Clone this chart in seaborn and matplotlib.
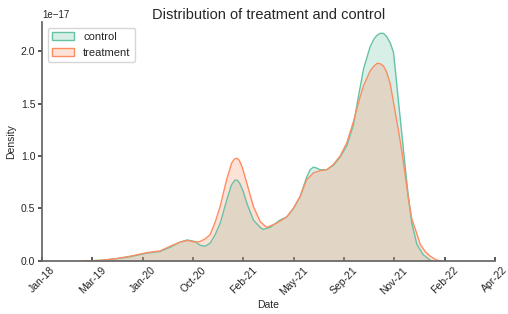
import pandas as pd
import seaborn as sns
import matplotlib.pyplot as plt
from matplotlib.patches import Patch

# Density curves (x in 1e18 ns, density in 1e-17)
control_x = [1.5163, 1.5231, 1.5290, 1.5350, 1.5418, 1.5469, 1.5509, 1.5549, 1.5577, 1.5608,
             1.5628, 1.5648, 1.5668, 1.5688, 1.5708, 1.5734, 1.5752, 1.5766, 1.5776, 1.5786,
             1.5800, 1.5814, 1.5840, 1.5867, 1.5879, 1.5907, 1.5946, 1.5973, 1.5999, 1.6026,
             1.6052, 1.6066, 1.6079, 1.6092, 1.6105, 1.6132, 1.6158, 1.6185, 1.6212, 1.6238,
             1.6258, 1.6278, 1.6304, 1.6318, 1.6331, 1.6344, 1.6357, 1.6370, 1.6384, 1.6397,
             1.6404, 1.6417, 1.6430, 1.6443, 1.6456, 1.6470, 1.6490, 1.6515, 1.6547]
control_y = [0.0, 0.005, 0.02, 0.04, 0.075, 0.09, 0.13, 0.18, 0.20, 0.185,
             0.15, 0.14, 0.17, 0.25, 0.36, 0.58, 0.72, 0.77, 0.77, 0.74,
             0.66, 0.55, 0.39, 0.32, 0.30, 0.32, 0.39, 0.42, 0.50, 0.615,
             0.80, 0.87, 0.895, 0.885, 0.87, 0.87, 0.91, 0.99, 1.10, 1.30,
             1.57, 1.83, 2.04, 2.11, 2.15, 2.17, 2.17, 2.14, 2.08, 1.99,
             1.83, 1.52, 1.22, 0.91, 0.62, 0.36, 0.16, 0.06, 0.0]

treatment_x = [1.5163, 1.5231, 1.5290, 1.5350, 1.5418, 1.5469, 1.5509, 1.5549, 1.5577, 1.5608,
               1.5628, 1.5648, 1.5668, 1.5688, 1.5708, 1.5734, 1.5754, 1.5764, 1.5774, 1.5784,
               1.5796, 1.5814, 1.5840, 1.5867, 1.5893, 1.5933, 1.5973, 1.5999, 1.6026, 1.6052,
               1.6079, 1.6105, 1.6132, 1.6158, 1.6185, 1.6212, 1.6238, 1.6264, 1.6278, 1.6304,
               1.6320, 1.6333, 1.6345, 1.6357, 1.6370, 1.6384, 1.6404, 1.6417, 1.6430, 1.6443,
               1.6456, 1.6470, 1.6490, 1.6503, 1.6523, 1.6543, 1.6567, 1.6586]
treatment_y = [0.0, 0.005, 0.02, 0.045, 0.08, 0.095, 0.14, 0.18, 0.195, 0.18,
               0.185, 0.21, 0.25, 0.37, 0.52, 0.78, 0.935, 0.97, 0.98, 0.96,
               0.89, 0.74, 0.52, 0.375, 0.32, 0.36, 0.42, 0.50, 0.615, 0.775,
               0.84, 0.86, 0.87, 0.92, 1.00, 1.13, 1.33, 1.56, 1.67, 1.81,
               1.86, 1.885, 1.88, 1.86, 1.80, 1.69, 1.42, 1.24, 1.05, 0.83,
               0.60, 0.40, 0.26, 0.16, 0.09, 0.045, 0.01, 0.0]

groups = ["control", "treatment"]
tick_values = [1.50, 1.52, 1.54, 1.56, 1.58, 1.60, 1.62, 1.64, 1.66, 1.68]
tick_labels = ["Jan-18", "Mar-19", "Jan-20", "Oct-20", "Feb-21",
               "May-21", "Sep-21", "Nov-21", "Feb-22", "Apr-22"]

df = pd.concat([
    pd.DataFrame({"Date": control_x, "Density": control_y, "group": "control"}),
    pd.DataFrame({"Date": treatment_x, "Density": treatment_y, "group": "treatment"}),
], ignore_index=True)
df["Date"] = df["Date"] * 1e18
df["Density"] = df["Density"] * 1e-17

sns.set_theme(style="ticks")
plt.rcParams["font.family"] = ["Liberation Sans", "DejaVu Sans"]
colors = dict(zip(groups, sns.color_palette("Set2", 2)))

fig = plt.figure(figsize=(5.08, 3.14), dpi=100)
ax = fig.add_axes([0.083, 0.169, 0.891, 0.761])

sns.lineplot(data=df, x="Date", y="Density", hue="group", hue_order=groups,
             palette=colors, linewidth=1.0, legend=False, ax=ax)
for g in groups:
    sub = df[df["group"] == g]
    ax.fill_between(sub["Date"], 0, sub["Density"], color=colors[g], alpha=0.25, linewidth=0)

ax.set_xlim(tick_values[0] * 1e18, tick_values[-1] * 1e18)
ax.set_ylim(bottom=0)
ax.set_xticks([t * 1e18 for t in tick_values])
ax.set_xticklabels(tick_labels, rotation=45, ha="center", fontsize=7.5)
ax.tick_params(axis="y", labelsize=7.5, length=3, pad=2, color="#444444")
ax.tick_params(axis="x", direction="in", length=3, pad=3, color="#444444")
ax.yaxis.get_offset_text().set_fontsize(7)
ax.set_xlabel("Date", fontsize=7.5, labelpad=2)
ax.set_ylabel("Density", fontsize=7.5, labelpad=3)
ax.set_title("Distribution of treatment and control", fontsize=10.5, pad=2)
for s in ["left", "bottom"]:
    ax.spines[s].set_color("#666666")
sns.despine(ax=ax)

handles = [Patch(facecolor=(*colors[g], 0.25), edgecolor=colors[g], label=g) for g in groups]
ax.legend(handles=handles, loc="upper left", fontsize=8, frameon=True)

fig.savefig("out.png", dpi=100)
